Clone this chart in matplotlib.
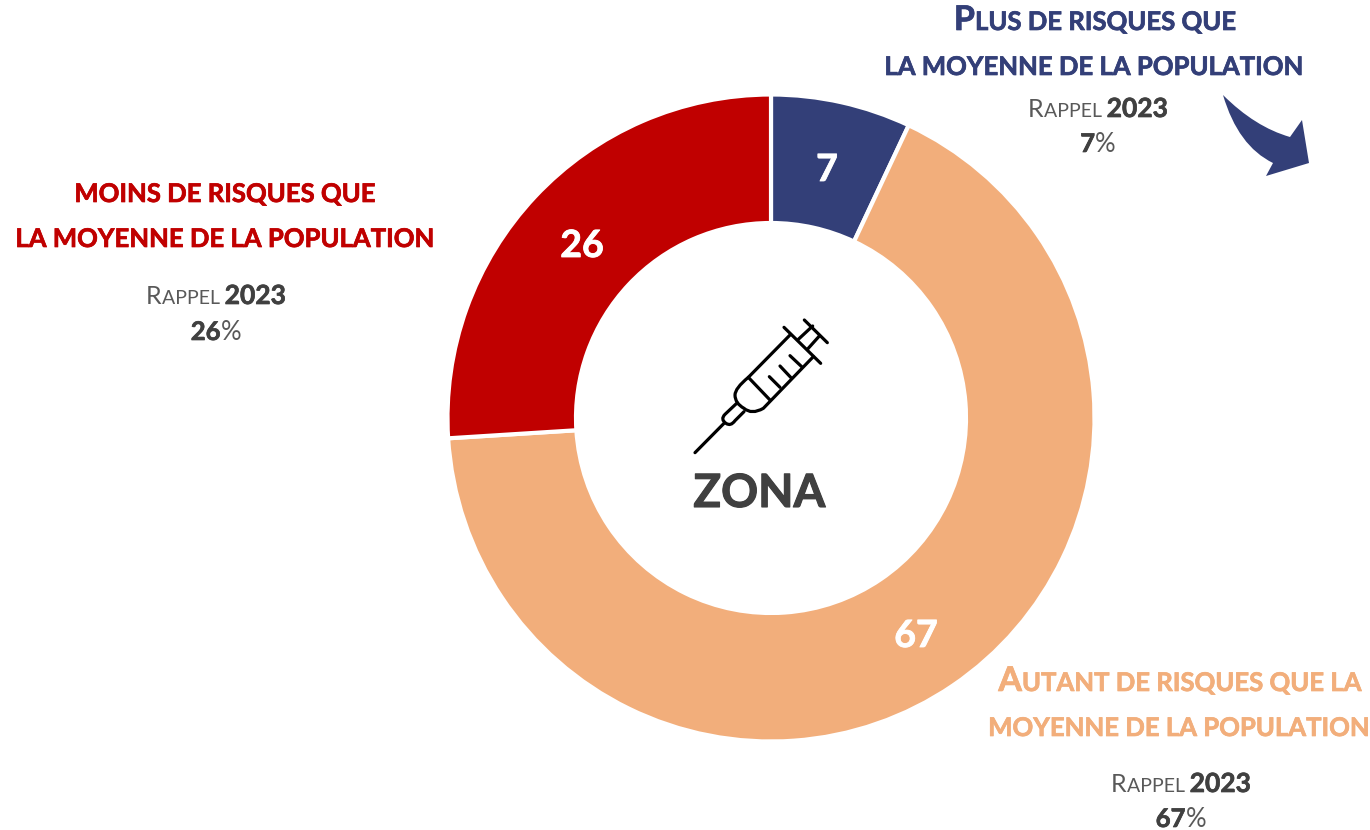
import matplotlib
matplotlib.use("Agg")
import matplotlib.pyplot as plt
import matplotlib.patheffects as pe
from matplotlib.path import Path
from matplotlib.patches import PathPatch

W, H = 1370, 830
FONT = "Lato"
BLUE, RED, ORANGE, GREY = "#333F78", "#C00000", "#F2AE7B", "#404040"

segment_values = [7, 67, 26]
segment_labels = ["7", "67", "26"]
segment_colors = [BLUE, ORANGE, RED]
center_label = "ZONA"
recall_year = "2023"
recall_values = ["7", "67", "26"]

fig = plt.figure(figsize=(W / 100, H / 100), dpi=100, facecolor="white")
ax = fig.add_axes([0, 0, 1, 1])

def Y(py):
    return H - py

ax.pie(segment_values, center=(771, Y(418)), radius=323.5, startangle=90, counterclock=False,
       colors=segment_colors, wedgeprops=dict(width=128.5, edgecolor="white", linewidth=3))
ax.set_xlim(0, W)
ax.set_ylim(0, H)
ax.set_aspect("equal")
ax.axis("off")

renderer = fig.canvas.get_renderer()

def advance(s, size, weight):
    def w(t):
        tx = ax.text(0, 0, t, fontsize=size, fontweight=weight, family=FONT)
        e = tx.get_window_extent(renderer).width
        tx.remove()
        return e
    return w("x" + s + "x") - w("xx")

def runs(cx, base, parts, color):
    """parts: (string, size pt, weight, color or None); centred on cx, on baseline base (pixels)."""
    widths = [advance(p[0], p[1], p[2]) for p in parts]
    x = cx - sum(widths) / 2
    for (s, size, weight, c), w in zip(parts, widths):
        col = c or color
        t = ax.text(x, Y(base), s, fontsize=size, fontweight=weight, family=FONT,
                    color=col, ha="left", va="baseline")
        if weight == "bold":
            t.set_path_effects([pe.withStroke(linewidth=0.5, foreground=col)])
        x += w

T, B = 18.5, 24.5

def recall(cx, base1, base2, value):
    runs(cx, base1, [("R", 18, "normal", "#595959"), ("APPEL ", 14, "normal", "#595959"),
                     (recall_year, 19, "bold", GREY)], GREY)
    runs(cx, base2, [(value, 18.5, "bold", GREY), ("%", 18.5, "normal", "#595959")], GREY)

# Blue block
runs(1096, 30, [("P", B, "bold", None), ("LUS DE RISQUES QUE", T, "bold", None)], BLUE)
runs(1095, 75, [("LA MOYENNE DE LA POPULATION", T, "bold", None)], BLUE)
recall(1098, 117, 152, recall_values[0])
# Red block
runs(226, 202, [("MOINS DE RISQUES QUE", T, "bold", None)], RED)
runs(226, 247, [("LA MOYENNE DE LA POPULATION", T, "bold", None)], RED)
recall(216, 304, 340, recall_values[2])
# Orange block
runs(1181, 691, [("A", B, "bold", None), ("UTANT DE RISQUES QUE LA", T, "bold", None)], ORANGE)
runs(1180, 736, [("MOYENNE DE LA POPULATION", T, "bold", None)], ORANGE)
recall(1181, 792, 827, recall_values[1])

# Data labels
for (x, y), s in zip([(827, 170), (916, 636), (582, 246)], segment_labels):
    t = ax.text(x, Y(y), s, color="white", fontsize=27, fontweight="bold", family=FONT,
                ha="center", va="center")
    t.set_path_effects([pe.withStroke(linewidth=0.6, foreground="white")])
t = ax.text(759.5, Y(494), center_label, color=GREY, fontsize=33, fontweight="bold", family=FONT,
            ha="center", va="center")
t.set_path_effects([pe.withStroke(linewidth=0.8, foreground=GREY)])

# Syringe icon (reference zoom coordinates: 3x, offset 670,300)
def zx(x): return 670 + x / 3
def zy(y): return Y(300 + y / 3)

def stroke(verts, codes=None):
    pts = [(zx(a), zy(b)) for a, b in verts]
    if codes is None:
        codes = [Path.MOVETO] + [Path.LINETO] * (len(pts) - 1)
    ax.add_patch(PathPatch(Path(pts, codes), fc="none", ec="black", lw=2.3, capstyle="round", joinstyle="round"))

for seg in [[(75, 458), (162, 370)], [(342, 82), (452, 190)], [(403, 60), (472, 128)],
            [(385, 118), (428, 78)], [(413, 147), (448, 108)], [(298, 230), (330, 262)],
            [(330, 198), (362, 232)], [(360, 167), (395, 200)], [(235, 232), (300, 300)]]:
    stroke(seg)
M, L, C3 = Path.MOVETO, Path.LINETO, Path.CURVE3
stroke([(360, 105), (235, 232), (195, 265), (195, 285), (195, 310), (222, 325), (245, 345), (280, 325), (430, 170)],
       [M, L, C3, C3, C3, C3, C3, C3, L])
stroke([(200, 310), (165, 343), (150, 358), (168, 370), (182, 380), (195, 362), (222, 335)],
       [M, L, C3, C3, C3, C3, L])

# Arrow
arrow = [(1223, 95), (1255, 127), (1290, 137), (1302, 120), (1309, 163), (1266, 176), (1273, 163),
         (1238, 146), (1223, 95), (1223, 95)]
codes = [M, C3, C3, L, L, L, L, C3, C3, Path.CLOSEPOLY]
ax.add_patch(PathPatch(Path([(x, Y(y)) for x, y in arrow], codes), fc=BLUE, ec="none"))

fig.savefig("out.png", dpi=100, facecolor="white")
